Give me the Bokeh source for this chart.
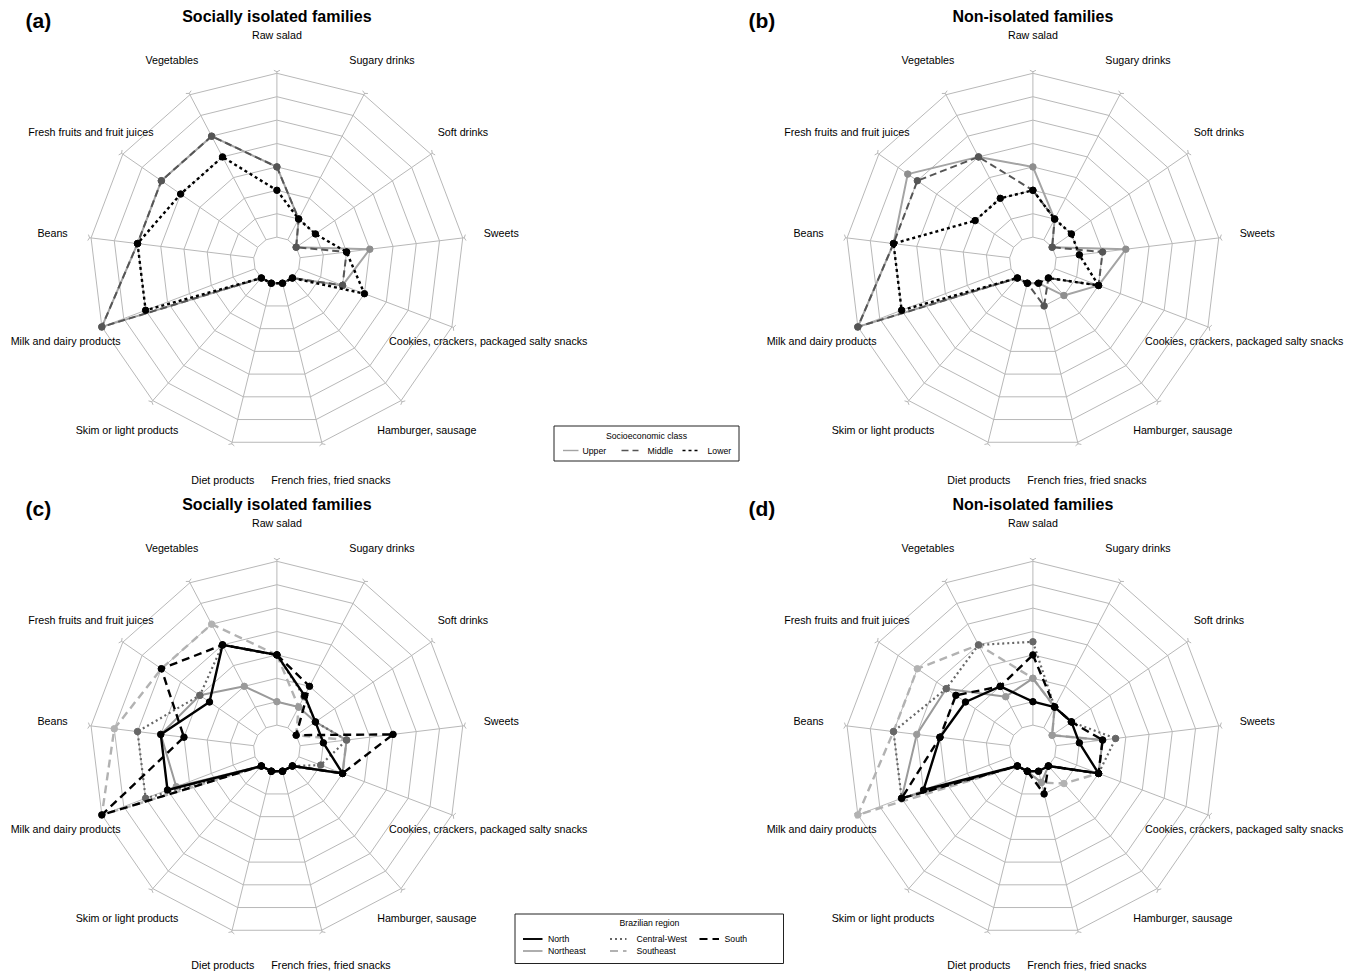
import numpy as np
from bokeh.plotting import figure
from bokeh.models import Range1d, ColumnDataSource
from bokeh.core.properties import value
from bokeh.embed import file_html
from bokeh.resources import INLINE

# ---------------- data ----------------
categories = ["Raw salad", "Sugary drinks", "Soft drinks", "Sweets",
              "Cookies, crackers, packaged salty snacks", "Hamburger, sausage",
              "French fries, fried snacks", "Diet products", "Skim or light products",
              "Milk and dairy products", "Beans", "Fresh fruits and fruit juices", "Vegetables"]

# values in grid-ring units (0 = innermost ring, 7 = outermost ring)
a_upper = [3, 1, 0, 3, 2, 0, 0, 0, 0, 7, 5, 5, 5]
a_middle = [3, 1, 0, 2, 2, 0, 0, 0, 0, 7, 5, 5, 5]
a_lower = [2, 1, 1, 2, 3, 0, 0, 0, 0, 5, 5, 4, 4]

b_upper = [3, 1, 0, 3, 2, 1, 0, 0, 0, 7, 5, 5.5, 4]
b_middle = [2, 1, 0, 2, 2, 0, 1, 0, 0, 7, 5, 5, 4]
b_lower = [2, 1, 1, 1, 2, 0, 0, 0, 0, 5, 5, 2, 2]

c_north = [3, 1.55, 1, 1, 2, 0, 0, 0, 0, 4, 4, 2.5, 4]
c_northeast = [1, 1, 1, 2, 2, 0, 0, 0, 0, 3.6, 4, 3, 2]
c_centralwest = [3, 1.5, 1, 2, 1, 0, 0, 0, 0, 5, 5, 3, 4]
c_south = [3, 2, 0, 4, 2, 0, 0, 0, 0, 7, 3, 5, 4]
c_southeast = [3, 1, 0, 2, 2, 0, 0, 0, 0, 7, 6, 5, 5]

d_north = [1, 1, 1, 1, 2, 0, 0, 0, 0, 4, 3, 2.5, 2]
d_northeast = [2, 1, 0, 2, 2, 0, 0.5, 0, 0, 5, 4, 3.5, 1.5]
d_centralwest = [3.56, 1, 1, 2.56, 2, 0, 0, 0, 0, 5, 5, 3.5, 4]
d_south = [3, 1, 1, 2, 2, 0, 1, 0, 0, 5, 3, 3, 2]
d_southeast = [2, 1, 0, 2, 2, 1, 0.5, 0, 0, 7, 5, 5, 4]

panel_tags = ["(a)", "(b)", "(c)", "(d)"]
panel_titles = ["Socially isolated families", "Non-isolated families",
                "Socially isolated families", "Non-isolated families"]
class_names = ["Upper", "Middle", "Lower"]
region_names = ["North", "Northeast", "Central-West", "South", "Southeast"]

# ---------------- styles ----------------
FONT = "Liberation Sans"
S = 23.4            # px per ring
NRING = 8
LABEL_R = 226.0
N = len(categories)
theta = np.radians(90.0 - np.arange(N) * 360.0 / N)

class_style = {
    "Upper": dict(color="#a4a4a4", dash="solid", width=2.0, mcolor="#8e8e8e"),
    "Middle": dict(color="#555555", dash="7 4", width=2.0, mcolor="#555555"),
    "Lower": dict(color="#000000", dash="3 3", width=2.4, mcolor="#000000"),
}
region_style = {
    "North": dict(color="#000000", dash="solid", width=2.4, mcolor="#000000"),
    "Northeast": dict(color="#9a9a9a", dash="solid", width=2.0, mcolor="#9a9a9a"),
    "Central-West": dict(color="#666666", dash="2 3", width=2.2, mcolor="#666666"),
    "South": dict(color="#000000", dash="8 5", width=2.4, mcolor="#000000"),
    "Southeast": dict(color="#b2b2b2", dash="8 5", width=2.4, mcolor="#b2b2b2"),
}

panels = [
    dict(cx=276.4, cy=260.0, tagx=25, series=[("Upper", a_upper), ("Middle", a_middle), ("Lower", a_lower)], st=class_style),
    dict(cx=1032.4, cy=260.0, tagx=748, series=[("Upper", b_upper), ("Middle", b_middle), ("Lower", b_lower)], st=class_style),
    dict(cx=276.4, cy=748.0, tagx=25, series=[("Southeast", c_southeast), ("Northeast", c_northeast),
                                     ("Central-West", c_centralwest), ("South", c_south), ("North", c_north)], st=region_style),
    dict(cx=1032.4, cy=748.0, tagx=748, series=[("Southeast", d_southeast), ("Northeast", d_northeast),
                                      ("Central-West", d_centralwest), ("South", d_south), ("North", d_north)], st=region_style),
]

W, H = 1355, 972
p = figure(width=W, height=H, output_backend="svg", toolbar_location=None,
           x_range=Range1d(0, W), y_range=Range1d(H, 0),
           x_axis_type=None, y_axis_type=None, min_border=0)
p.grid.visible = False
p.outline_line_color = None
p.background_fill_color = "white"


def txt(x, y, t, size, bold=False, align="center", color="#000000", baseline="middle"):
    p.text(x=[x], y=[y], text=[t], text_font=value(FONT), text_font_size=value(size),
           text_font_style="bold" if bold else "normal", text_align=align,
           text_baseline=baseline, text_color=color)


for i, pn in enumerate(panels):
    cx, cy = pn["cx"], pn["cy"]
    # rings
    xs, ys = [], []
    for k in range(1, NRING + 1):
        r = S * k
        xs.append(list(cx + r * np.cos(np.append(theta, theta[0]))))
        ys.append(list(cy - r * np.sin(np.append(theta, theta[0]))))
    # spokes
    for t in theta:
        re = S * NRING + 2.0
        xs.append([cx + S * np.cos(t), cx + re * np.cos(t)])
        ys.append([cy - S * np.sin(t), cy - re * np.sin(t)])
        # small "Y"-like tick at spoke end
        ex, ey = cx + re * np.cos(t), cy - re * np.sin(t)
        px, py = -np.sin(t), -np.cos(t)
        ux, uy = np.cos(t), -np.sin(t)
        xs.append([ex - 3.0 * px + 1.0 * ux, ex - 0.5 * ux, ex + 3.0 * px + 1.0 * ux])
        ys.append([ey - 3.0 * py + 1.0 * uy, ey - 0.5 * uy, ey + 3.0 * py + 1.0 * uy])
    p.multi_line(xs=xs, ys=ys, line_color="#b8b8b8", line_width=1)

    # category labels (kept inside the page at the bottom edge)
    lx = cx + LABEL_R * np.cos(theta)
    ly = np.minimum(cy - LABEL_R * np.sin(theta), H - 7.5)
    p.text(x=lx, y=ly, text=categories, text_font=value(FONT), text_font_size=value("10.7px"),
           text_align="center", text_baseline="middle", text_color="#000000")

    # title & tag
    txt(cx, cy - 244, panel_titles[i], "16px", bold=True)
    txt(pn["tagx"], cy - 240, panel_tags[i], "21px", bold=True, align="left")

    # series
    for name, vals in pn["series"]:
        st = pn["st"][name]
        v = np.asarray(vals, dtype=float)
        r = S * (1.0 + v)
        x = cx + r * np.cos(theta)
        y = cy - r * np.sin(theta)
        src = ColumnDataSource(dict(x=list(x) + [x[0]], y=list(y) + [y[0]]))
        p.line("x", "y", source=src, line_color=st["color"], line_width=st["width"],
               line_dash=st["dash"])
        p.scatter(x=x, y=y, size=6.5, marker="circle", fill_color=st["mcolor"],
                  line_color=st["mcolor"])

# ---------------- legend: socioeconomic class ----------------
p.quad(left=[553.5], right=[738.5], top=[425.5], bottom=[460.5], fill_color="white",
       line_color="#222222", line_width=1)
txt(646, 435.5, "Socioeconomic class", "8.7px")
leg_y = 450
for name, x0, x1, tx in [("Upper", 562.5, 578, 582), ("Middle", 621, 638, 647), ("Lower", 682, 697, 707)]:
    st = class_style[name]
    p.line(x=[x0, x1], y=[leg_y, leg_y], line_color=st["color"], line_width=st["width"] * 0.7,
           line_dash=st["dash"])
    txt(tx, leg_y, name, "8.7px", align="left")

# ---------------- legend: Brazilian region ----------------
p.quad(left=[514.5], right=[783], top=[913.5], bottom=[963], fill_color="white",
       line_color="#222222", line_width=1)
txt(649, 922.5, "Brazilian region", "8.7px")
for name, x0, x1, tx, yy in [("North", 522.5, 542, 547.5, 938.5),
                             ("Northeast", 522.5, 542, 547.5, 950.5),
                             ("Central-West", 609.5, 626, 636, 938.5),
                             ("Southeast", 609.5, 626, 636, 950.5),
                             ("South", 699, 718.5, 724, 938.5)]:
    st = region_style[name]
    p.line(x=[x0, x1], y=[yy, yy], line_color=st["color"], line_width=st["width"] * 0.8,
           line_dash=st["dash"])
    txt(tx, yy, name, "8.7px", align="left")

open("out.html", "w").write(file_html(p, INLINE))
